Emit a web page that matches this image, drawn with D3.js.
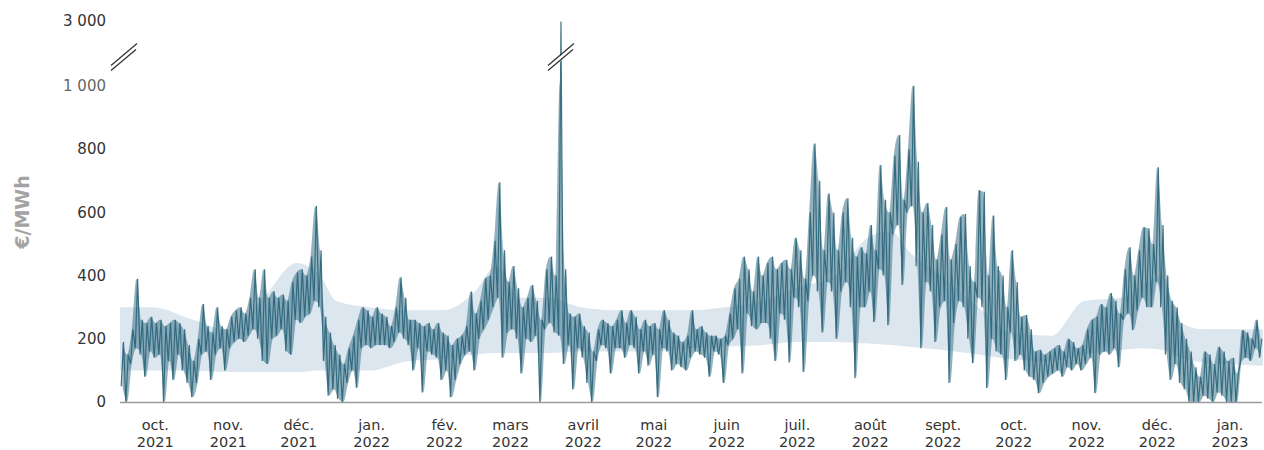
<!DOCTYPE html>
<html><head><meta charset="utf-8">
<script src="https://cdn.jsdelivr.net/npm/d3@7"></script>
<style>body{margin:0;background:#fff}svg{display:block}</style>
</head><body>
<svg id="c" width="1264" height="450"></svg>
<script>
// ---- data ----
const startDate = "2021-10-01";
const slotDays = 2; // each entry = one 2-day slot: low and high hourly price
const priceHigh = [190,150,230,390,260,250,270,250,260,240,250,260,250,230,180,130,
200,310,240,220,300,240,230,270,290,300,280,330,420,330,420,
330,350,330,340,320,380,410,420,400,460,620,480,270,220,180,
150,120,170,210,260,300,290,270,300,280,270,240,300,395,330,260,
260,250,240,250,230,250,220,210,180,200,210,240,350,280,
320,390,400,510,695,480,380,430,360,300,330,370,320,260,420,
460,400,2987,420,280,270,280,240,220,160,230,260,250,240,260,
290,250,290,270,230,260,240,250,230,290,260,220,210,190,210,290,
230,240,220,210,210,200,210,280,360,390,460,420,350,460,400,
440,460,420,440,450,420,520,480,390,600,818,700,480,660,600,
480,600,645,520,460,490,470,560,480,750,640,600,780,845,640,800,1011,760,
600,630,560,450,530,617,450,500,585,595,430,380,670,
665,400,590,430,400,300,480,380,270,275,230,160,165,150,160,
170,180,160,200,190,170,180,230,260,270,310,300,345,320,280,
420,490,400,480,553,550,500,743,560,400,320,300,250,200,160,110,
80,160,150,120,175,160,130,140,90,228,220,200,260,200];
const priceLow = [50,0,120,170,150,80,160,140,150,0,130,70,150,100,60,15,
60,150,160,70,150,170,100,170,190,200,190,210,230,200,130,
120,200,210,230,160,150,260,250,270,280,320,300,130,20,40,
10,0,60,100,45,170,180,170,180,180,180,170,190,220,200,180,
100,170,30,160,150,140,70,100,15,70,120,150,160,100,
200,230,260,300,330,140,220,230,200,90,200,190,210,0,230,
250,220,210,120,180,40,170,140,60,0,130,180,170,90,170,
170,140,180,170,90,160,115,150,15,170,160,100,120,110,100,140,
160,150,140,80,160,150,60,180,200,230,90,280,240,230,250,
250,200,130,280,260,125,330,300,95,320,400,350,220,380,350,
200,350,380,300,75,300,300,350,253,420,400,243,530,560,370,600,620,430,
170,380,350,190,300,320,60,250,320,300,200,123,330,
300,44,200,160,150,70,220,130,150,100,80,70,28,60,80,
90,100,80,110,100,120,100,120,140,28,150,160,150,170,110,
260,280,228,290,330,300,300,380,300,150,70,120,60,40,0,0,
0,20,10,0,30,20,0,0,0,130,140,130,170,140];
// historical range band
const bandDates = ["2021-10-01","2021-10-15","2021-11-01","2021-11-15","2021-12-01","2021-12-15","2021-12-25",
"2022-01-01","2022-01-15","2022-02-01","2022-02-15","2022-03-01","2022-03-10","2022-03-20","2022-04-01","2022-04-15",
"2022-05-01","2022-05-15","2022-06-01","2022-06-15","2022-07-01","2022-07-15","2022-08-01","2022-08-15","2022-08-25",
"2022-09-01","2022-09-15","2022-10-01","2022-10-15","2022-11-01","2022-11-15","2022-12-01","2022-12-10","2022-12-18",
"2022-12-26","2023-01-05","2023-01-15","2023-01-30"];
const bandLow = [100,100,100,95,95,95,100,100,100,130,135,150,155,155,155,160,160,160,170,175,180,190,190,185,180,175,165,150,135,130,150,165,170,165,140,125,120,115];
const bandHigh = [300,300,260,230,330,440,400,320,300,290,290,350,430,330,330,300,290,290,290,300,320,360,400,520,540,480,400,300,220,210,320,330,370,400,250,230,230,230];
const monthLabels = [["oct.","2021"],["nov.","2021"],["déc.","2021"],["jan.","2022"],["fév.","2022"],["mars","2022"],
["avril","2022"],["mai","2022"],["juin","2022"],["juil.","2022"],["août","2022"],["sept.","2022"],["oct.","2022"],
["nov.","2022"],["déc.","2022"],["jan.","2023"]];
const yTicks = [0,200,400,600,800,1000,3000];
const yTitle = "€/MWh";

// ---- chart ----
const svg = d3.select("#c");
const parse = d3.timeParse("%Y-%m-%d");
const t0 = parse(startDate);
const x = d3.scaleTime().domain([t0, d3.timeDay.offset(t0, 486)]).range([120, 1263]);
const y = d3.scaleLinear().domain([0, 1000, 3000]).range([402, 86, 21]);

// band
const band = bandDates.map((d,i)=>({t:parse(d), lo:bandLow[i], hi:bandHigh[i]}));
svg.append("path").datum(band)
  .attr("fill","#dce6ef")
  .attr("d", d3.area().curve(d3.curveMonotoneX).x(d=>x(d.t)).y0(d=>y(d.lo)).y1(d=>y(d.hi)));

// price mass: area between slot lows and highs
const slots = priceHigh.map((h,i)=>({t: d3.timeHour.offset(t0, i*slotDays*24+24), lo: priceLow[i], hi: Math.min(h, 1100)}));
svg.append("path").datum(slots)
  .attr("fill","#3b7389").attr("fill-opacity",0.55)
  .attr("d", d3.area().curve(d3.curveMonotoneX).x(d=>x(d.t)).y0(d=>y(d.lo)).y1(d=>y(d.hi)));

// price line: zig-zag through low and high of each slot
const pts = [];
priceHigh.forEach((h,i)=>{
  const base = d3.timeHour.offset(t0, i*slotDays*24);
  pts.push({t: d3.timeHour.offset(base, 12), v: priceLow[i]});
  pts.push({t: d3.timeHour.offset(base, 36), v: h});
});
svg.append("path").datum(pts)
  .attr("fill","none").attr("stroke","#2a6479").attr("stroke-width",1.2)
  .attr("stroke-opacity",0.9).attr("stroke-linejoin","miter")
  .attr("d", d3.line().x(d=>x(d.t)).y(d=>y(d.v)));

// x axis line
svg.append("line").attr("x1",120).attr("x2",1262).attr("y1",y(0)+0.5).attr("y2",y(0)+0.5)
  .attr("stroke","#9a9a9a").attr("stroke-width",1.5);

// x labels (mid-month), two separate lines
const xg = svg.append("g").attr("font-family","DejaVu Sans, Verdana, sans-serif").attr("font-size",14.5).attr("fill","#333").attr("text-anchor","middle");
monthLabels.forEach((m,i)=>{
  const d = new Date(2021, 9+i, 16);
  xg.append("text").attr("x", x(d)).attr("y", 430).text(m[0]);
  xg.append("text").attr("x", x(d)).attr("y", 447).text(m[1]);
});

// y labels
const fmt = v => d3.format(",")(v).replace(/,/g, " ");
svg.append("g").selectAll("text").data(yTicks).join("text")
  .attr("x",106).attr("y",d=>y(d)).attr("dy","0.35em").attr("text-anchor","end")
  .attr("font-family","DejaVu Sans, Verdana, sans-serif").attr("font-size",15)
  .attr("fill",d=>d===1000?"#666":"#333").text(fmt);

// y title
svg.append("text").attr("transform","translate(29,212) rotate(-90)").attr("text-anchor","middle")
  .attr("font-family","DejaVu Sans, Verdana, sans-serif").attr("font-weight","bold").attr("font-size",19)
  .attr("fill","#a3a3a3").text(yTitle);

// break marks
function brk(cx, cy){
  const g = svg.append("g");
  g.append("polygon").attr("points",`${cx-13},${cy+10} ${cx+12},${cy-11} ${cx+13},${cy-6} ${cx-12},${cy+14}`).attr("fill","#fff");
  g.append("line").attr("x1",cx-13).attr("y1",cy+9).attr("x2",cx+13).attr("y2",cy-13).attr("stroke","#333").attr("stroke-width",1.3);
  g.append("line").attr("x1",cx-13).attr("y1",cy+14).attr("x2",cx+12).attr("y2",cy-7).attr("stroke","#333").attr("stroke-width",1.3);
}
const breakY = (y(1000)+y(3000))/2 + 3;
brk(124, breakY);
const spikeIdx = priceHigh.indexOf(d3.max(priceHigh));
brk(x(d3.timeHour.offset(t0, spikeIdx*slotDays*24+36)), breakY);
</script>
</body></html>
